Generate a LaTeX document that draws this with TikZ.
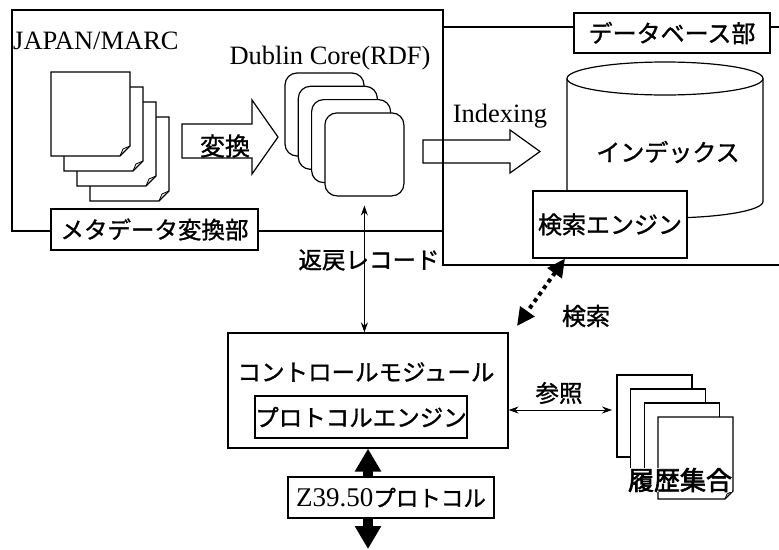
\documentclass[tikz,border=0pt]{standalone}
\usepackage{fontspec}
\setmainfont{Liberation Serif}
\newfontfamily\jp[FakeBold=1.2]{Noto Sans CJK JP}
\newfontfamily\jph[FakeBold=2.5]{Noto Sans CJK JP}
\usetikzlibrary{arrows.meta, positioning}

\begin{document}
\begin{tikzpicture}[x=1pt, y=-1pt,
    lat/.style={font=\fontsize{26.5}{28}\selectfont, inner sep=0pt},
    jpn/.style={font=\jp\fontsize{23.5}{25}\selectfont, inner sep=0pt},
    frame/.style={draw, line width=1.2pt},
    tag/.style={draw, fill=white, line width=1.2pt, inner sep=0pt, font=\jp\fontsize{23.5}{25}\selectfont},
    sheet/.style={draw, fill=white, line width=1.1pt},
    rec/.style={draw, fill=white, line width=1.2pt, rounded corners=12pt, minimum width=79pt, minimum height=83pt},
    thin/.style={line width=0.9pt, {Stealth[length=10pt,width=7pt]}-{Stealth[length=10pt,width=7pt]}},
    fat/.style={line width=10pt, -{Triangle[length=23pt,width=25pt]}},
  ]
  \useasboundingbox (0,0) rectangle (779,549);

  % Metadata conversion part
  \draw[frame] (12,10) rectangle (443,231);
  \node[tag, minimum width=207pt, minimum height=41pt] (convtag) at (154.5,229.5) {メタデータ変換部};
  \node[lat, anchor=west] (marc) at (13,41) {JAPAN/MARC};
  \foreach \i in {3,2,1,0} {
    \draw[sheet] ({51+13*\i},{72+15*\i}) -- ++(79,0) -- ++(0,74) -- ++(-10,10) -- ++(-69,0) -- cycle;
    \draw[line width=0.8pt] ({120+13*\i},{156+15*\i}) -- ++(3,-7) -- ++(7,-3);
  }
  \draw[frame, fill=white] (182,124) -- (252,124) -- (252,100) -- (278,137)
    -- (252,174) -- (252,158) -- (182,158) -- cycle;
  \node[jpn, font=\jp\fontsize{25}{27}\selectfont] (conv) at (225,146) {変換};
  \node[lat] (dctitle) at (330,58) {Dublin Core(RDF)};
  \foreach \i in {1,...,4}
    \node[rec] (dc\i) at ({311.2+13.3*\i},{101.2+13.3*\i}) {};

  % Database part
  \draw[frame] (779,27) -- (443,27) -- (443,265) -- (779,265);
  \node[tag, minimum width=196pt, minimum height=40pt, font=\jp\fontsize{24}{26}\selectfont] (dbtag) at (672,33) {データベース部};
  \draw[frame, fill=white] (567,78.5) -- (567,201.5)
    arc[start angle=180, end angle=0, x radius=98, y radius=16.5] -- (763,78.5);
  \draw[frame, fill=white] (665,78.5) ellipse [x radius=98, y radius=16.5];
  \node[jpn, font=\jp\fontsize{24}{26}\selectfont] (index) at (668,152) {インデックス};
  \node[tag, minimum width=154pt, minimum height=67pt, font=\jp\fontsize{24}{26}\selectfont] (engine) at (610,224.5) {検索エンジン};
  \draw[frame] (423,140) -- (510,140) -- (510,130) -- (540,151.5)
    -- (510,173) -- (510,163) -- (423,163) -- cycle;
  \node[lat] (indexing) at (500,116) {Indexing};

  % Control module
  \node[frame, minimum width=280pt, minimum height=115pt] (ctrl) at (368,390.5) {};
  \node[jpn] (ctrltext) at (366,372) {コントロールモジュール};
  \node[tag, minimum width=212pt, minimum height=42pt] (proto) at (361,417) {プロトコルエンジン};
  \node[tag, minimum width=206pt, minimum height=41pt] (zbox) at (391,497.5)
    {{\rmfamily\fontsize{27}{29}\selectfont Z39.50}\fontsize{22.5}{24}\selectfont プロトコル};
  \coordinate (zend) at (368,549);

  % History set
  \foreach \i in {0,1,2}
    \draw[sheet] ({617+13.7*\i},{375+14*\i}) rectangle ++(75,82);
  \draw[sheet] (658,417) -- ++(75,0) -- ++(0,74) -- ++(-8,8) -- ++(-67,0) -- cycle;
  \draw[line width=0.8pt] (725,499) -- ++(2,-5) -- ++(6,-3);
  \node[jpn, fill=white, font=\jph\fontsize{26}{28}\selectfont] (hist) at (680,480) {履歴集合};
  \coordinate (histin) at (612,410);
  \coordinate (qtip) at (517,326);

  % Arrows
  \draw[thin, shorten <=9pt] (dc4.south) -- (dc4.south |- ctrl.north);
  \node[jpn] (ret) at (369,260) {返戻レコード};
  \draw[thin] (ctrl.east |- histin) -- (histin);
  \node[jpn] (ref) at (559,393) {参照};
  \draw[line width=4pt, dash pattern=on 4pt off 4pt,
    {Triangle[length=18pt,width=17pt]}-{Triangle[length=18pt,width=17pt]}]
    ([xshift=-45pt]engine.south) -- (qtip);
  \node[jpn, font=\jp\fontsize{24}{26}\selectfont] (query) at (586,316) {検索};
  \draw[fat] (ctrl.south |- zbox.north) -- (ctrl.south);
  \draw[fat] (ctrl.south |- zbox.south) -- (zend);
\end{tikzpicture}
\end{document}
